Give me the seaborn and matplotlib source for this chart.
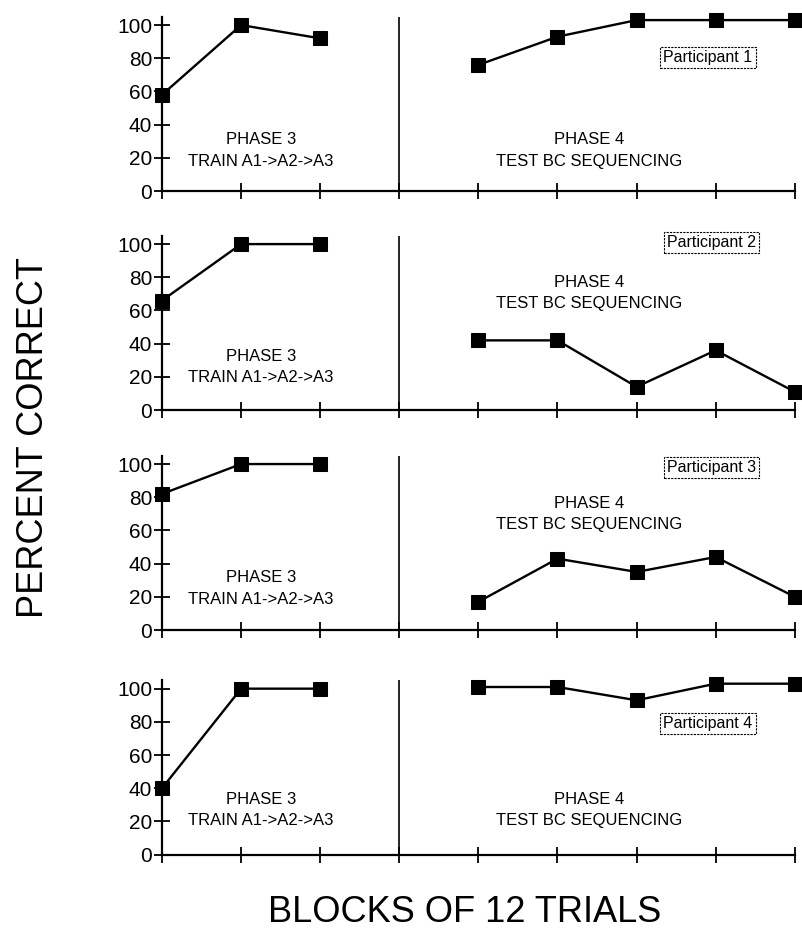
import matplotlib
matplotlib.use("Agg")
import matplotlib.pyplot as plt
import seaborn as sns
import pandas as pd

# block positions (block 3 is the phase boundary)
phase3_blocks = [0, 1, 2]
phase4_blocks = [4, 5, 6, 7, 8]
phase_boundary = 3

participants = ["Participant 1", "Participant 2", "Participant 3", "Participant 4"]
phase3_scores = [
    [58, 100, 92],
    [66, 100, 100],
    [82, 100, 100],
    [40, 100, 100],
]
phase4_scores = [
    [76, 93, 103, 103, 103],
    [42, 42, 14, 36, 11],
    [17, 43, 35, 44, 20],
    [101, 101, 93, 103, 103],
]
yticks = [0, 20, 40, 60, 80, 100]

sns.set_style("ticks")
plt.rcParams["font.family"] = ["Liberation Sans", "DejaVu Sans"]
plt.rcParams["text.color"] = "black"
plt.rcParams["xtick.color"] = "black"
plt.rcParams["ytick.color"] = "black"

fig = plt.figure(figsize=(8.02, 9.32), dpi=100)

bottoms = [0.795, 0.560, 0.324, 0.083]
height = 0.187
# centre heights of the phase captions and participant boxes (data units)
phase3_text_y = [24.5, 26, 25, 27]
phase4_text_y = [24.5, 70.5, 70, 27]
label_pos = [(6.9, 80.5), (6.95, 101), (6.95, 98), (6.9, 79)]

for i, name in enumerate(participants):
    ax = fig.add_axes([0.202, bottoms[i], 0.789, height])
    df = pd.DataFrame({
        "block": phase3_blocks + phase4_blocks,
        "score": phase3_scores[i] + phase4_scores[i],
        "phase": ["3"] * len(phase3_blocks) + ["4"] * len(phase4_blocks),
    })
    sns.lineplot(data=df, x="block", y="score", units="phase", estimator=None,
                 color="black", marker="s", markersize=9.5, linewidth=1.7,
                 markeredgecolor="black", ax=ax, clip_on=False)
    ax.axvline(phase_boundary, color="black", linewidth=1.2)
    ax.set_xlim(0, 8)
    ax.set_ylim(0, 105)
    ax.set_yticks(yticks)
    ax.set_xticks(range(0, 9))
    ax.set_xticklabels([])
    ax.tick_params(axis="both", direction="inout", length=12, width=1.3,
                   labelsize=15, pad=1)
    sns.despine(ax=ax)
    for s in ["left", "bottom"]:
        ax.spines[s].set_linewidth(1.6)
        ax.spines[s].set_color("black")
    ax.set_xlabel("")
    ax.set_ylabel("")

    ax.text(1.25, phase3_text_y[i], "PHASE 3\nTRAIN A1->A2->A3", ha="center",
            va="center", fontsize=12, linespacing=1.55)
    ax.text(5.4, phase4_text_y[i], "PHASE 4\nTEST BC SEQUENCING", ha="center",
            va="center", fontsize=12, linespacing=1.55)
    ax.text(label_pos[i][0], label_pos[i][1], name, ha="center", va="center",
            fontsize=11.5,
            bbox=dict(boxstyle="square,pad=0.2", facecolor="white",
                      edgecolor="black", linewidth=0.8, linestyle=(0, (2, 1))))

fig.text(0.042, 0.531, "PERCENT CORRECT", rotation=90, ha="center", va="center",
         fontsize=26)
fig.text(0.579, 0.021, "BLOCKS OF 12 TRIALS", ha="center", va="center",
         fontsize=26)

fig.savefig("out.png", dpi=100)
